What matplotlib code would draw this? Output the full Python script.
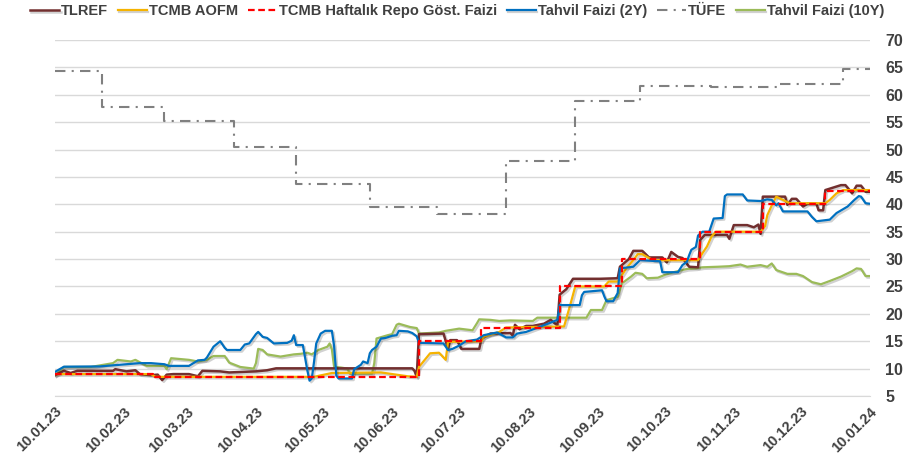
import matplotlib
matplotlib.use("Agg")
import matplotlib.pyplot as plt
import matplotlib.dates as mdates
import matplotlib.patheffects as pe
import pandas as pd

plt.rcParams['font.family'] = ['Liberation Sans', 'DejaVu Sans']

# ---------------- data ----------------
tlref_dates = ["10.01.23","14.01.23","17.01.23","20.01.23","05.02.23","06.02.23","11.02.23","15.02.23",
               "17.02.23","22.02.23","25.02.23","26.02.23","27.02.23","01.03.23","04.03.23","11.03.23",
               "15.03.23","17.03.23","25.03.23","29.03.23","10.04.23","15.04.23","19.04.23","19.06.23",
               "20.06.23","21.06.23","22.06.23","03.07.23","05.07.23","06.07.23","09.07.23","11.07.23",
               "19.07.23","20.07.23","24.07.23","02.08.23","03.08.23","04.08.23","06.08.23","09.08.23",
               "12.08.23","17.08.23","20.08.23","23.08.23","24.08.23","27.08.23","30.08.23","11.09.23",
               "19.09.23","20.09.23","24.09.23","26.09.23","30.09.23","03.10.23","09.10.23","11.10.23",
               "13.10.23","16.10.23","18.10.23","21.10.23","25.10.23","26.10.23","28.10.23","07.11.23",
               "08.11.23","10.11.23","16.11.23","19.11.23","21.11.23","22.11.23","23.11.23","03.12.23",
               "04.12.23","06.12.23","08.12.23","11.12.23","13.12.23","17.12.23","18.12.23","20.12.23",
               "21.12.23","28.12.23","30.12.23","02.01.24","04.01.24","06.01.24","08.01.24","10.01.24"]
tlref_vals = [8.8,9.6,9.2,9.6,9.6,9.9,9.5,9.7,
              9.0,8.8,8.9,8.4,7.9,8.9,9.0,9.0,
              8.6,9.6,9.5,9.3,9.5,9.7,10.05,10.05,
              9.6,8.5,16.3,16.4,13.6,15.2,15.2,13.6,
              13.6,15.5,16.4,16.5,16.0,18.0,17.2,17.8,
              17.8,18.2,18.9,17.9,23.5,24.5,26.4,26.4,
              26.5,28.6,30.0,31.5,31.5,30.3,30.3,29.4,
              31.3,30.4,30.2,28.6,28.5,33.5,34.4,34.4,
              33.7,36.2,36.2,35.8,36.3,34.6,41.4,41.4,
              39.9,41.0,41.0,39.6,40.1,40.1,38.9,38.9,
              42.6,43.5,43.5,42.0,43.4,43.4,42.3,42.3]

aofm_dates = ["10.01.23","22.02.23","24.02.23","06.05.23","14.05.23","05.06.23","17.06.23","21.06.23",
              "22.06.23","27.06.23","01.07.23","04.07.23","05.07.23","20.07.23","21.07.23","28.07.23",
              "31.07.23","26.08.23","29.08.23","31.08.23","13.09.23","15.09.23","19.09.23","20.09.23",
              "23.09.23","26.09.23","28.09.23","30.09.23","03.10.23","05.10.23","25.10.23","27.10.23",
              "29.10.23","31.10.23","02.11.23","22.11.23","24.11.23","25.11.23","27.11.23","29.11.23",
              "02.12.23","05.12.23","21.12.23","23.12.23","26.12.23","29.12.23","10.01.24"]
aofm_vals = [9.0,9.0,8.5,8.5,9.2,9.3,8.6,8.5,
             10.3,12.8,12.9,11.6,14.9,15.0,15.8,16.7,
             17.5,17.7,22.0,25.0,25.0,25.9,25.9,26.5,
             28.4,29.8,30.9,30.9,30.2,29.8,29.8,31.1,
             32.3,34.1,35.0,35.0,36.0,38.0,39.8,41.4,
             40.8,40.2,40.2,40.8,42.0,42.6,42.6]

repo_dates = ["10.01.23","23.02.23","22.06.23","20.07.23","24.08.23","21.09.23","26.10.23","23.11.23",
              "21.12.23","10.01.24"]
repo_vals = [9.0,8.5,15.0,17.5,25.0,30.0,35.0,40.0,42.5,42.5]

y2_dates = ["10.01.23","14.01.23","30.01.23","17.02.23","22.02.23","28.02.23","02.03.23","11.03.23",
            "15.03.23","18.03.23","19.03.23","22.03.23","25.03.23","27.03.23","28.03.23","03.04.23",
            "05.04.23","07.04.23","10.04.23","11.04.23","13.04.23","15.04.23","18.04.23","24.04.23",
            "26.04.23","27.04.23","28.04.23","01.05.23","03.05.23","04.05.23","05.05.23","06.05.23",
            "07.05.23","09.05.23","11.05.23","14.05.23","15.05.23","16.05.23","17.05.23","23.05.23",
            "24.05.23","27.05.23","28.05.23","30.05.23","31.05.23","01.06.23","03.06.23","05.06.23",
            "07.06.23","10.06.23","12.06.23","13.06.23","17.06.23","19.06.23","21.06.23","22.06.23",
            "03.07.23","05.07.23","07.07.23","10.07.23","13.07.23","18.07.23","21.07.23","27.07.23",
            "31.07.23","03.08.23","05.08.23","09.08.23","15.08.23","20.08.23","23.08.23","24.08.23",
            "02.09.23","03.09.23","04.09.23","12.09.23","13.09.23","14.09.23","17.09.23","19.09.23",
            "20.09.23","26.09.23","29.09.23","08.10.23","09.10.23","16.10.23","18.10.23","20.10.23",
            "21.10.23","22.10.23","24.10.23","25.10.23","27.10.23","30.10.23","01.11.23","05.11.23",
            "06.11.23","07.11.23","14.11.23","16.11.23","22.11.23","25.11.23","27.11.23","29.11.23",
            "30.11.23","02.12.23","13.12.23","15.12.23","17.12.23","23.12.23","26.12.23","31.12.23",
            "03.01.24","05.01.24","06.01.24","08.01.24","10.01.24"]
y2_vals = [9.4,10.35,10.4,11.0,11.0,10.8,10.5,10.5,
           11.5,11.6,12.0,14.0,15.0,13.8,13.4,13.4,
           14.4,14.6,16.3,16.7,15.8,15.6,14.6,14.7,
           15.1,16.1,14.3,14.3,9.7,7.8,8.2,11.2,
           14.6,16.4,16.9,16.9,14.1,8.7,8.2,8.2,
           9.9,10.7,11.3,11.0,12.8,13.4,14.0,15.5,
           15.6,16.0,16.1,16.9,16.8,16.5,15.9,14.7,
           14.6,13.4,13.6,14.2,15.0,15.3,16.1,16.6,
           15.7,15.7,16.4,16.7,17.6,18.4,18.9,21.6,
           21.6,23.4,24.0,24.3,23.2,22.3,22.3,23.8,
           28.3,28.6,29.8,29.6,27.6,27.6,28.9,29.5,
           30.7,31.7,32.2,34.3,35.0,35.0,37.4,37.5,
           41.5,41.8,41.8,40.7,40.6,40.9,40.8,39.8,
           40.2,38.7,38.7,37.7,36.9,37.2,38.4,39.6,
           40.8,41.5,41.4,40.2,40.1]

tufe_dates = ["10.01.23","31.01.23","28.02.23","31.03.23","28.04.23","31.05.23","30.06.23","31.07.23",
              "31.08.23","29.09.23","31.10.23","30.11.23","29.12.23","10.01.24"]
tufe_vals = [64.27,57.68,55.18,50.51,43.68,39.59,38.21,47.83,58.94,61.53,61.36,61.98,64.77,64.77]

y10_dates = ["10.01.23","14.01.23","26.01.23","05.02.23","07.02.23","13.02.23","15.02.23","20.02.23",
             "28.02.23","01.03.23","03.03.23","11.03.23","15.03.23","19.03.23","22.03.23","27.03.23",
             "29.03.23","03.04.23","09.04.23","10.04.23","11.04.23","13.04.23","15.04.23","21.04.23",
             "27.04.23","30.04.23","03.05.23","05.05.23","08.05.23","12.05.23","13.05.23","14.05.23",
             "15.05.23","18.05.23","21.05.23","22.05.23","01.06.23","02.06.23","03.06.23","08.06.23",
             "10.06.23","12.06.23","13.06.23","18.06.23","21.06.23","22.06.23","01.07.23","04.07.23",
             "10.07.23","16.07.23","18.07.23","19.07.23","24.07.23","28.07.23","02.08.23","12.08.23",
             "14.08.23","31.08.23","05.09.23","07.09.23","12.09.23","14.09.23","19.09.23","21.09.23",
             "23.09.23","25.09.23","27.09.23","30.09.23","02.10.23","07.10.23","10.10.23","14.10.23",
             "20.10.23","24.10.23","27.10.23","03.11.23","08.11.23","13.11.23","16.11.23","22.11.23",
             "25.11.23","27.11.23","29.11.23","04.12.23","08.12.23","11.12.23","15.12.23","19.12.23",
             "23.12.23","28.12.23","02.01.24","04.01.24","06.01.24","08.01.24","10.01.24"]
y10_vals = [8.8,10.3,10.3,11.0,11.6,11.3,11.6,10.5,
            10.5,9.9,11.9,11.6,11.3,11.6,12.3,12.3,
            11.1,10.3,10.0,11.0,13.6,13.4,12.6,12.2,
            12.6,12.7,12.9,12.6,13.4,14.0,14.6,13.5,
            10.3,10.2,10.0,9.1,9.1,11.0,15.5,16.1,
            16.3,18.0,18.2,17.6,17.4,16.4,16.6,16.9,
            17.3,17.0,18.3,19.0,18.9,18.7,18.8,18.7,
            19.3,19.3,19.3,20.7,20.7,22.5,23.1,25.6,
            26.2,26.8,27.5,27.3,26.5,26.6,27.1,27.6,
            28.2,28.3,28.5,28.6,28.7,29.0,28.6,28.9,
            28.6,29.2,28.0,27.3,27.3,26.9,25.8,25.4,
            26.0,26.8,27.8,28.3,28.2,26.9,26.9]

tick_labels = ["10.01.23","10.02.23","10.03.23","10.04.23","10.05.23","10.06.23","10.07.23",
               "10.08.23","10.09.23","10.10.23","10.11.23","10.12.23","10.01.24"]

def d(lst):
    return pd.to_datetime(lst, format="%d.%m.%y")

# ---------------- figure ----------------
fig = plt.figure(figsize=(9.06, 4.62), dpi=100)
ax = fig.add_axes([55/906, 1-396/462, (870-55)/906, (396-40)/462])

shadow = [pe.SimpleLineShadow(offset=(1.2, -1.2), shadow_color='#000000', alpha=0.18), pe.Normal()]
TXT = '#404040'

ax.plot(d(tufe_dates), tufe_vals, color='#808080', lw=1.5, drawstyle='steps-post',
        linestyle=(0, (5, 3, 1, 3)), label='TÜFE', zorder=2)
ax.plot(d(y10_dates), y10_vals, color='#9BBB59', lw=1.6, label='Tahvil Faizi (10Y)', zorder=3,
        path_effects=shadow)
ax.plot(d(tlref_dates), tlref_vals, color='#722F2F', lw=1.8, label='TLREF', zorder=4,
        path_effects=shadow)
ax.plot(d(aofm_dates), aofm_vals, color='#F5B301', lw=1.6, label='TCMB AOFM', zorder=5,
        path_effects=shadow)
ax.plot(d(y2_dates), y2_vals, color='#0070C0', lw=1.6, label='Tahvil Faizi (2Y)', zorder=6,
        path_effects=shadow)
ax.plot(d(repo_dates), repo_vals, color='#FF0000', lw=1.6, drawstyle='steps-post',
        linestyle=(0, (3, 1.6)), label='TCMB Haftalık Repo Göst. Faizi', zorder=7)

ax.set_xlim(d(["10.01.23"])[0], d(["10.01.24"])[0])
ax.set_ylim(5, 70)
ax.set_yticks(range(5, 71, 5))
ax.set_xticks(d(tick_labels))
ax.set_xticklabels(tick_labels, rotation=45, ha='right', rotation_mode='anchor',
                   fontsize=10.5, fontweight='bold', color=TXT)
ax.yaxis.tick_right()
for lab in ax.get_yticklabels():
    lab.set_fontsize(11.5)
    lab.set_fontweight('bold')
    lab.set_color(TXT)
ax.tick_params(axis='both', length=0)
ax.tick_params(axis='y', pad=11)
ax.tick_params(axis='x', pad=6)
ax.grid(axis='y', color='#D9D9D9', lw=1)
ax.set_axisbelow(True)
for s in ['left', 'right', 'top']:
    ax.spines[s].set_visible(False)
ax.spines['bottom'].set_color('#D9D9D9')

handles, labels = ax.get_legend_handles_labels()
order = ['TLREF', 'TCMB AOFM', 'TCMB Haftalık Repo Göst. Faizi', 'Tahvil Faizi (2Y)', 'TÜFE',
         'Tahvil Faizi (10Y)']
hmap = dict(zip(labels, handles))
leg = fig.legend([hmap[k] for k in order], order, loc='center', bbox_to_anchor=(457/906, 1-11/462),
                 ncol=6, frameon=False, handlelength=2.0, handletextpad=0.15, columnspacing=0.65,
                 prop={'weight': 'bold', 'size': 10.5})
for t in leg.get_texts():
    t.set_color(TXT)

fig.savefig('out.png', dpi=100)
